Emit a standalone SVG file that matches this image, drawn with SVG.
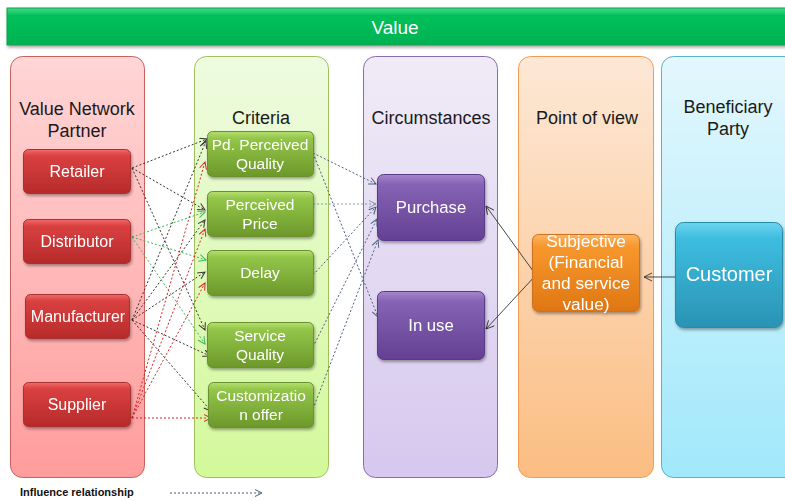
<svg xmlns="http://www.w3.org/2000/svg" width="785" height="501" viewBox="0 0 785 501">
<style>
.title{font-family:"Liberation Sans",Arial,sans-serif;font-size:18px;fill:#1a1a1a;text-anchor:middle}
.nt{font-family:"Liberation Sans",Arial,sans-serif;font-size:15.5px;fill:#fff;text-anchor:middle}
.rd{font-size:16px}
.big{font-size:16.7px}
.sub{font-size:17.3px}
.xl{font-size:20px}
.lk{fill:none;stroke-width:1;stroke-dasharray:2 2}
.k{stroke:#333}
.g{stroke:#3cb85a}
.r{stroke:#e02020}
.b{stroke:#4a5f80}
.s{fill:none;stroke:#333;stroke-width:0.9}
</style>
<defs>
<linearGradient id="gBar" x1="0" y1="0" x2="0" y2="1"><stop offset="0" stop-color="#3ede8a"/><stop offset="0.2" stop-color="#06c05a"/><stop offset="1" stop-color="#02b252"/></linearGradient>
<linearGradient id="cR" x1="0" y1="0" x2="0" y2="1"><stop offset="0" stop-color="#ffd6d6"/><stop offset="1" stop-color="#ff9c9c"/></linearGradient>
<linearGradient id="cG" x1="0" y1="0" x2="0" y2="1"><stop offset="0" stop-color="#eefbe0"/><stop offset="1" stop-color="#d3f99a"/></linearGradient>
<linearGradient id="cP" x1="0" y1="0" x2="0" y2="1"><stop offset="0" stop-color="#f0ebf7"/><stop offset="1" stop-color="#d6c8ee"/></linearGradient>
<linearGradient id="cO" x1="0" y1="0" x2="0" y2="1"><stop offset="0" stop-color="#fde8d6"/><stop offset="1" stop-color="#fbbd82"/></linearGradient>
<linearGradient id="cB" x1="0" y1="0" x2="0" y2="1"><stop offset="0" stop-color="#e4f7fd"/><stop offset="1" stop-color="#a0e8fb"/></linearGradient>
<linearGradient id="nR" x1="0" y1="0" x2="0" y2="1"><stop offset="0" stop-color="#f26a6a"/><stop offset="0.15" stop-color="#d94040"/><stop offset="1" stop-color="#b72a2a"/></linearGradient>
<linearGradient id="nG" x1="0" y1="0" x2="0" y2="1"><stop offset="0" stop-color="#b6e070"/><stop offset="0.15" stop-color="#93c64a"/><stop offset="1" stop-color="#6c982a"/></linearGradient>
<linearGradient id="nP" x1="0" y1="0" x2="0" y2="1"><stop offset="0" stop-color="#a586cc"/><stop offset="0.15" stop-color="#8663b4"/><stop offset="1" stop-color="#634093"/></linearGradient>
<linearGradient id="nO" x1="0" y1="0" x2="0" y2="1"><stop offset="0" stop-color="#fbb462"/><stop offset="0.15" stop-color="#f7982e"/><stop offset="1" stop-color="#df7612"/></linearGradient>
<linearGradient id="nB" x1="0" y1="0" x2="0" y2="1"><stop offset="0" stop-color="#6dd4ee"/><stop offset="0.15" stop-color="#3dbde0"/><stop offset="1" stop-color="#2a93b3"/></linearGradient>
<filter id="sh" x="-10%" y="-10%" width="125%" height="130%"><feDropShadow dx="1" dy="2" stdDeviation="1.5" flood-color="#000" flood-opacity="0.35"/></filter>
<marker id="mk" markerWidth="10" markerHeight="10" refX="8" refY="4" orient="auto" markerUnits="userSpaceOnUse"><path d="M1,0.5 L8,4 L1,7.5" fill="none" stroke="#333" stroke-width="1"/></marker>
<marker id="mg" markerWidth="10" markerHeight="10" refX="8" refY="4" orient="auto" markerUnits="userSpaceOnUse"><path d="M1,0.5 L8,4 L1,7.5" fill="none" stroke="#3cb85a" stroke-width="1"/></marker>
<marker id="mr" markerWidth="10" markerHeight="10" refX="8" refY="4" orient="auto" markerUnits="userSpaceOnUse"><path d="M1,0.5 L8,4 L1,7.5" fill="none" stroke="#e02020" stroke-width="1"/></marker>
<marker id="mb" markerWidth="10" markerHeight="10" refX="8" refY="4" orient="auto" markerUnits="userSpaceOnUse"><path d="M1,0.5 L8,4 L1,7.5" fill="none" stroke="#4a5f80" stroke-width="1"/></marker>
<marker id="ms" markerWidth="12" markerHeight="12" refX="9" refY="4.5" orient="auto" markerUnits="userSpaceOnUse"><path d="M1,0.5 L9,4.5 L1,8.5" fill="none" stroke="#333" stroke-width="0.9"/></marker>
</defs>
<rect width="785" height="501" fill="#fff"/>

<g id="value-bar">
<rect x="7" y="8" width="790" height="37" fill="url(#gBar)" stroke="#1a9a4a" stroke-width="1" filter="url(#sh)"/>
<text x="395" y="34" font-family="Liberation Sans,Arial,sans-serif" font-size="19" fill="#fff" text-anchor="middle">Value</text>
</g>

<g id="col-partner">
<rect x="10.5" y="56.5" width="134" height="421" rx="12" fill="url(#cR)" stroke="#c9605c"/>
<text class="title" x="77" y="115">Value Network</text>
<text class="title" x="77" y="137">Partner</text>
</g>
<g id="col-criteria">
<rect x="194.5" y="56.5" width="134" height="421" rx="12" fill="url(#cG)" stroke="#a0c060"/>
<text class="title" x="261" y="124">Criteria</text>
</g>
<g id="col-circumstances">
<rect x="363.5" y="56.5" width="134" height="421" rx="12" fill="url(#cP)" stroke="#8a6cae"/>
<text class="title" x="431" y="124">Circumstances</text>
</g>
<g id="col-pov">
<rect x="518.5" y="56.5" width="135" height="421" rx="12" fill="url(#cO)" stroke="#f59a50"/>
<text class="title" x="587" y="124">Point of view</text>
</g>
<g id="col-beneficiary">
<rect x="661.5" y="56.5" width="140" height="421" rx="12" fill="url(#cB)" stroke="#58b2cc"/>
<text class="title" x="728" y="113">Beneficiary</text>
<text class="title" x="728" y="135">Party</text>
</g>

<g id="connectors">
<path class="lk k" d="M132,168 L207,139" marker-end="url(#mk)"/>
<path class="lk k" d="M132,168 L205,210" marker-end="url(#mk)"/>
<path class="lk k" d="M132,168 L205,330" marker-end="url(#mk)"/>
<path class="lk g" d="M132,237 L205,212" marker-end="url(#mg)"/>
<path class="lk g" d="M132,237 L206,260" marker-end="url(#mg)"/>
<path class="lk g" d="M132,237 L205,344" marker-end="url(#mg)"/>
<path class="lk k" d="M132,320 L206,141" marker-end="url(#mk)"/>
<path class="lk k" d="M132,320 L205,220" marker-end="url(#mk)"/>
<path class="lk k" d="M132,320 L205,272" marker-end="url(#mk)"/>
<path class="lk k" d="M132,320 L210,356" marker-end="url(#mk)"/>
<path class="lk k" d="M132,320 L211,411" marker-end="url(#mk)"/>
<path class="lk r" d="M132,418 L205,162" marker-end="url(#mr)"/>
<path class="lk r" d="M132,418 L205,229" marker-end="url(#mr)"/>
<path class="lk r" d="M132,418 L205,283" marker-end="url(#mr)"/>
<path class="lk r" d="M132,418 L211,418" marker-end="url(#mr)"/>
<path class="lk b" d="M313,153 L376,184" marker-end="url(#mb)"/>
<path class="lk b" d="M313,153 L378,317" marker-end="url(#mb)"/>
<path class="lk b" d="M313,204 L376,204" marker-end="url(#mb)" opacity="0.6"/>
<path class="lk b" d="M313,275 L376,207" marker-end="url(#mb)"/>
<path class="lk b" d="M313,347 L377,219" marker-end="url(#mb)"/>
<path class="lk b" d="M313,409 L378,240" marker-end="url(#mb)"/>
<path class="s" d="M536,275 L486,206" marker-end="url(#ms)"/>
<path class="s" d="M536,275 L486,329" marker-end="url(#ms)"/>
<path class="s" d="M676,277 L644,277" marker-end="url(#ms)"/>
</g>

<g id="n-retailer" filter="url(#sh)"><rect x="23.5" y="149.5" width="107" height="44" rx="5" fill="url(#nR)" stroke="#a83232"/><text class="nt rd" x="77" y="177">Retailer</text></g>
<g id="n-distributor" filter="url(#sh)"><rect x="23.5" y="219.5" width="107" height="44" rx="5" fill="url(#nR)" stroke="#a83232"/><text class="nt rd" x="77" y="247">Distributor</text></g>
<g id="n-manufacturer" filter="url(#sh)"><rect x="25.5" y="294.5" width="104" height="44" rx="5" fill="url(#nR)" stroke="#a83232"/><text class="nt rd" x="78" y="322">Manufacturer</text></g>
<g id="n-supplier" filter="url(#sh)"><rect x="23.5" y="382.5" width="107" height="44" rx="5" fill="url(#nR)" stroke="#a83232"/><text class="nt rd" x="77" y="410">Supplier</text></g>

<g id="n-pdquality" filter="url(#sh)"><rect x="207.5" y="131.5" width="106" height="45" rx="5" fill="url(#nG)" stroke="#6a9030"/><text class="nt" x="260" y="150">Pd. Perceived</text><text class="nt" x="260" y="169">Quality</text></g>
<g id="n-price" filter="url(#sh)"><rect x="207.5" y="191.5" width="106" height="45" rx="5" fill="url(#nG)" stroke="#6a9030"/><text class="nt" x="260" y="210">Perceived</text><text class="nt" x="260" y="229">Price</text></g>
<g id="n-delay" filter="url(#sh)"><rect x="207.5" y="250.5" width="106" height="45" rx="5" fill="url(#nG)" stroke="#6a9030"/><text class="nt" x="260" y="278">Delay</text></g>
<g id="n-service" filter="url(#sh)"><rect x="207.5" y="322.5" width="106" height="45" rx="5" fill="url(#nG)" stroke="#6a9030"/><text class="nt" x="260" y="341">Service</text><text class="nt" x="260" y="360">Quality</text></g>
<g id="n-custom" filter="url(#sh)"><rect x="208.5" y="382.5" width="105" height="45" rx="5" fill="url(#nG)" stroke="#6a9030"/><text class="nt" x="261" y="401">Customizatio</text><text class="nt" x="261" y="420">n offer</text></g>

<g id="n-purchase" filter="url(#sh)"><rect x="377.5" y="174.5" width="107" height="66" rx="6" fill="url(#nP)" stroke="#5a3a88"/><text class="nt big" x="431" y="213">Purchase</text></g>
<g id="n-inuse" filter="url(#sh)"><rect x="377.5" y="291.5" width="107" height="68" rx="6" fill="url(#nP)" stroke="#5a3a88"/><text class="nt big" x="431" y="331">In use</text></g>

<g id="n-subjective" filter="url(#sh)"><rect x="532.5" y="234.5" width="107" height="77" rx="6" fill="url(#nO)" stroke="#d07020"/><text class="nt sub" x="586" y="247">Subjective</text><text class="nt sub" x="586" y="268">(Financial</text><text class="nt sub" x="586" y="289">and service</text><text class="nt sub" x="586" y="310">value)</text></g>

<g id="n-customer" filter="url(#sh)"><rect x="675.5" y="222.5" width="107" height="105" rx="8" fill="url(#nB)" stroke="#2a8aaa"/><text class="nt xl" x="729" y="281">Customer</text></g>

<g id="legend">
<text x="20" y="496" font-family="Liberation Sans,Arial,sans-serif" font-size="11" font-weight="bold" fill="#111">Influence relationship</text>
<path class="lk b" d="M170,493 L262,493" marker-end="url(#mb)"/>
</g>
</svg>
